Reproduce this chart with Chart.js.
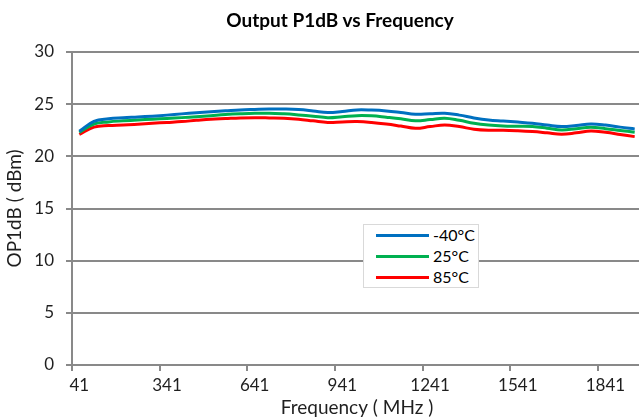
<!DOCTYPE html>
<html>
<head>
<meta charset="utf-8">
<script src="https://cdn.jsdelivr.net/npm/chart.js@4.4.1/dist/chart.umd.min.js"></script>
<style>
  html, body { margin: 0; padding: 0; background: #fff; overflow: hidden; }
  #wrap { position: relative; width: 645px; height: 420px; }
  #title { position: absolute; left: 0; top: 8px; width: 680px; text-align: center;
           font: bold 19px Lato, sans-serif; line-height: 23px; color: #000; }
  #legend { position: absolute; left: 363px; top: 224px; width: 114px; height: 62px;
            border: 1px solid #d9d9d9; background: #fff; }
  #legend .item { position: absolute; left: 12px; height: 20px; width: 100px; }
  #legend .swatch { position: absolute; left: 0; top: 9px; width: 53px; height: 3px; }
  #legend .txt { position: absolute; left: 57px; top: 0; font: 16px Lato, sans-serif;
                 line-height: 20px; color: #000; white-space: nowrap; }
</style>
</head>
<body>
<div id="wrap">
  <canvas id="p1dbChart" width="645" height="420"></canvas>
  <div id="title">Output P1dB vs Frequency</div>
  <div id="legend"></div>
</div>
<script>
// frequency categories (MHz)
const freqs = [41, 91, 141, 191, 241, 291, 341, 391, 441, 491, 541, 591, 641, 691, 741, 791,
  841, 891, 941, 991, 1041, 1091, 1141, 1191, 1241, 1291, 1341, 1391, 1441, 1491, 1541,
  1591, 1641, 1691, 1741, 1791, 1841, 1891, 1941];

// OP1dB (dBm) per temperature
const opMinus40 = [22.4, 23.35, 23.6, 23.7, 23.77, 23.85, 23.95, 24.07, 24.17, 24.27, 24.36,
  24.45, 24.5, 24.54, 24.53, 24.48, 24.35, 24.2, 24.3, 24.45, 24.43, 24.35, 24.2, 24.03,
  24.08, 24.13, 23.95, 23.68, 23.48, 23.38, 23.28, 23.17, 23.0, 22.85, 22.95, 23.1, 23.0,
  22.8, 22.63];
const op25 = [22.3, 23.1, 23.3, 23.4, 23.48, 23.56, 23.63, 23.71, 23.8, 23.9, 24.0, 24.07,
  24.12, 24.13, 24.07, 23.97, 23.85, 23.71, 23.8, 23.9, 23.88, 23.75, 23.6, 23.4, 23.52,
  23.65, 23.45, 23.17, 23.0, 22.91, 22.88, 22.85, 22.7, 22.53, 22.65, 22.78, 22.65, 22.48,
  22.31];
const op85 = [22.1, 22.8, 22.95, 23.0, 23.08, 23.17, 23.25, 23.33, 23.45, 23.56, 23.62, 23.68,
  23.7, 23.68, 23.65, 23.56, 23.4, 23.25, 23.3, 23.33, 23.25, 23.1, 22.9, 22.69, 22.85,
  23.0, 22.85, 22.6, 22.5, 22.5, 22.45, 22.37, 22.25, 22.12, 22.25, 22.43, 22.3, 22.1,
  21.89];

const seriesNames = ["-40°C", "25°C", "85°C"];
const seriesColors = ["#0070C0", "#00B050", "#FF0000"];

const gridColor = "#898989";
const textColor = "#1f1f1f";
const fontFamily = "Lato";

function makeDataset(name, values, color) {
  return {
    label: name,
    data: values,
    borderColor: color,
    backgroundColor: color,
    borderWidth: 3,
    pointRadius: 0,
    tension: 0.4,
    fill: false,
  };
}

const datasets = [opMinus40, op25, op85].map((vals, i) =>
  makeDataset(seriesNames[i], vals, seriesColors[i]));

new Chart(document.getElementById("p1dbChart"), {
  type: "line",
  data: {
    labels: freqs.map(String),
    datasets: datasets,
  },
  options: {
    responsive: false,
    animation: false,
    layout: { padding: { top: 52, right: 3, left: 0, bottom: 0 } },
    plugins: {
      legend: { display: false },
      tooltip: { enabled: false },
    },
    scales: {
      x: {
        offset: true,
        ticks: {
          autoSkip: false,
          maxRotation: 0,
          padding: 4,
          color: textColor,
          font: { family: fontFamily, size: 17 },
          callback: function (val, index) {
            return index % 6 === 0 ? this.getLabelForValue(val) : "";
          },
        },
        grid: {
          offset: true,
          drawOnChartArea: false,
          tickLength: 6,
          lineWidth: 2,
          color: ctx => (ctx.index % 6 === 0 ? gridColor : "rgba(0,0,0,0)"),
        },
        border: { color: gridColor, width: 2 },
        title: {
          display: true,
          text: "Frequency ( MHz )",
          color: textColor,
          font: { family: fontFamily, size: 19 },
          padding: { top: 0, bottom: 1 },
        },
        afterFit: s => { s.height = 55; },
      },
      y: {
        min: 0,
        max: 30,
        ticks: {
          stepSize: 5,
          padding: 12,
          color: textColor,
          font: { family: fontFamily, size: 17 },
        },
        grid: { color: gridColor, lineWidth: 2, tickLength: 6 },
        border: { color: gridColor, width: 2 },
        title: {
          display: true,
          text: "OP1dB ( dBm)",
          color: textColor,
          font: { family: fontFamily, size: 19 },
          padding: { top: 3, bottom: 0 },
        },
        afterFit: s => { s.width = 72; },
      },
    },
  },
});

// legend box inside the plot, built from the series
const legendEl = document.getElementById("legend");
seriesNames.forEach((name, i) => {
  const item = document.createElement("div");
  item.className = "item";
  item.style.top = (i * 21) + "px";
  item.innerHTML = `<div class="swatch" style="background:${seriesColors[i]}"></div><span class="txt">${name}</span>`;
  legendEl.appendChild(item);
});
</script>
</body>
</html>
